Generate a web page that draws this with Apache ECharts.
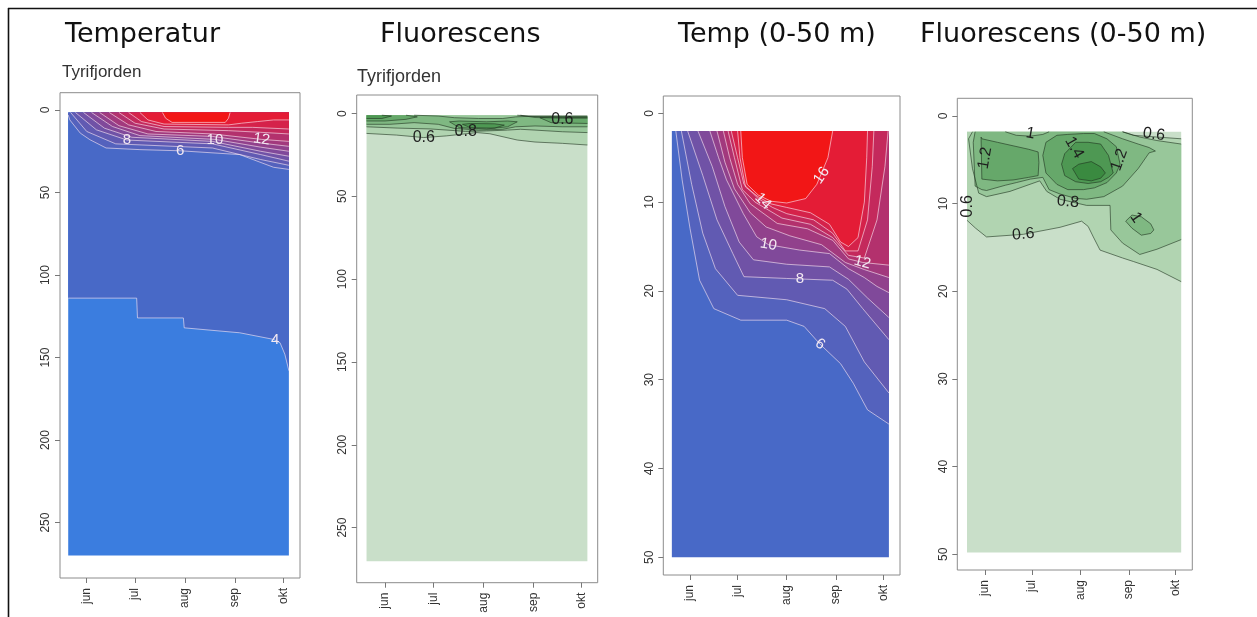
<!DOCTYPE html>
<html>
<head>
<meta charset="utf-8">
<style>
  html, body { margin: 0; padding: 0; background: #fff; }
  #chart { width: 1257px; height: 617px; }
</style>
<script src="https://cdn.jsdelivr.net/npm/echarts@6/dist/echarts.min.js"></script>
</head>
<body>
<div id="chart"></div>
<script>
// x axis is day of year, ticks on the 1st of each month
const monthDays = [152, 182, 213, 244, 274];
const monthNames = ['jun', 'jul', 'aug', 'sep', 'okt'];
const depthTicksDeep = [0, 50, 100, 150, 200, 250];
const depthTicksShallow = [0, 10, 20, 30, 40, 50];
const DAY0 = 140.5, DAY1 = 277.5;

/* Temperatur, 0-270 m: isotherm depth per day, 0 = at surface */
const tempLevels = [4, 6, 7, 8, 9, 10, 11, 12, 13, 14, 15, 16];
const tempIso = [
  [[140.5,114],[183,114],[183.5,126],[212,126],[212.5,132],[247,135],[268,139],[272,141],[275,148],[277.5,158]],
  [[140.5,3],[141.5,6],[148,14],[154,18],[164,23],[185,24],[210,24.7],[247,27],[268,34.7],[277.5,36]],
  [[140.5,0],[142,0],[152,13],[170,20.5],[230,23],[260,30],[277.5,33.5]],
  [[140.5,0],[145,0],[158,12],[177,18.2],[230,20.5],[260,27],[277.5,31]],
  [[140.5,0],[150,0],[163,11],[180,16.5],[230,19],[260,25],[277.5,28]],
  [[140.5,0],[155,0],[168,10],[185,15.5],[231.6,17.8],[260,22.5],[277.5,25]],
  [[140.5,0],[160,0],[172,9.5],[190,14.5],[230,16],[260,20],[277.5,22]],
  [[140.5,0],[166,0],[178,9],[195,13],[230,14.5],[260.6,17.8],[277.5,19]],
  [[140.5,0],[172,0],[182,8],[200,11.5],[240,12.5],[260,13.5],[277.5,14.5]],
  [[140.5,0],[178,0],[186,7],[200,10],[240,10.5],[255,10.5],[277.5,11.5]],
  [[140.5,0],[185,0],[190,6],[200,8.5],[240,9],[248,8],[258,7],[268,6],[277.5,6]],
  [[140.5,0],[199,0],[201,5],[205,7.5],[238,7.5],[240,5],[241,0],[277.5,0]]
];
const tempLabels = [['8',177,18.2],['6',210,24.7],['10',231.6,17.8],['12',260.6,17.8],['4',269,139.5]];

/* Temp 0-50 m */
const temp50Levels = [6, 7, 8, 9, 10, 11, 12, 13, 14, 15, 16];
const temp50Iso = [
  [[140.5,0],[143,0],[147,7.5],[152,13],[158,18.8],[167,22],[184,23.3],[213,23.3],[224,24],[234,26],[247,28.2],[255,30.4],[264,33.4],[277.5,35]],
  [[140.5,0],[146.5,0],[153,8],[160,13.5],[168,17.5],[182,20.5],[213,21],[237,22],[250,24],[262,28],[277.5,31.5]],
  [[140.5,0],[150.5,0],[160,7],[169,12],[179,15.8],[186,18.4],[213,18.6],[242,18.8],[251,19.8],[261,22],[277.5,25.5]],
  [[140.5,0],[157,0],[166,6],[174,10.5],[183,14.5],[192,16.5],[213,17],[240,17.3],[252,18.7],[264,20.8],[277.5,23]],
  [[140.5,0],[164.5,0],[170,5],[175,7.5],[185.6,11.3],[194,13.9],[201.5,14.8],[221,15.4],[240,15.8],[252,17.5],[262,18.5],[270,19.5],[277.5,20.2]],
  [[140.5,0],[169,0],[174,5.5],[180,8.5],[190,11.2],[200,12.8],[215,13.8],[235,14.8],[250,16.8],[262,17.6],[277.5,18.5]],
  [[140.5,0],[173,0],[177,5],[182,8],[190,10.2],[207,12.4],[226,13],[242,14.3],[252,16.4],[261,16.8],[277.5,17.1]],
  [[140.5,0],[176,0],[180,5],[185,8.6],[193,10],[210,11.8],[228,12.5],[242,14],[252,16],[262,16.3],[270,12],[275,6],[277,0],[277.5,0]],
  [[140.5,0],[178,0],[182,5],[186,8],[195,9.6],[204,10.6],[213,11.3],[230,12],[242,13.5],[250,15.5],[258,15.5],[264,12],[267,6],[268,0],[277.5,0]],
  [[140.5,0],[182,0],[183.5,5],[187,8.3],[195,9.4],[203,10.2],[213,10.6],[228,11.2],[240,12.5],[247,14.5],[252,15],[258,14],[262,10],[263.5,5],[264,0],[277.5,0]],
  [[140.5,0],[184,0],[185,5],[188,8],[195,9.2],[203,9.9],[213,10.1],[225,9.6],[232,8],[239,5],[242,0],[277.5,0]]
];
const temp50Labels = [['6',234,26],['8',221.4,18.7],['10',201.5,14.8],['12',260.7,16.8],['14',198,9.9],['16',235,7]];

/* Fluorescens, 0-270 m: regions above a level, [day, top, bottom] */
const fluorLevels = [0.6, 0.8, 1.0, 1.2, 1.2, 1.2, 1.4, 1.4];
const fluorRegions = [
  [[140.5,0,12],[159,0,13],[176,0,14.5],[190,0,13.5],[209,0,11.5],[217,0,12.2],[234,0,16],[245,1.8,17.2],[262,2.3,18],[277.5,2.3,19]],
  [[140.5,0,8],[160,0,8.8],[180,0,9.3],[195,0,10.3],[202,0,10.8],[215,0,10.5],[228,0,10],[236,0,9.5],[245,2.4,10],[262,2.8,11],[277.5,2.8,11.5]],
  [[140.5,0,6.5],[155,0,6.5],[170,0.5,5.5],[185,1.5,6.5],[195,2.5,9],[210,3,10],[225,3,9.5],[233,2,8],[245,1.5,7.5],[262,1.5,8],[277.5,1.5,8]],
  [[140.5,0,4.5],[152,0,4.5],[165,1,3.5],[172,2,2]],
  [[192,5,5],[198,4.5,8.5],[215,5,9.3],[228,4.5,8],[234,5,5]],
  [[248,2.5,2.5],[255,2,5.5],[277.5,2,6]],
  [[140.5,0.5,3],[150,0.5,3],[156,1.5,1.5]],
  [[200,6.5,6.5],[205,6,8.5],[220,6.2,8.8],[226,7,7]]
];
const fluorLabels = [['0.6',176,14.8],['0.8',202,11],['0.6',262,3.9]];

/* Fluorescens 0-50 m */
const fluor50Levels = [0.6, 0.8, 1.0, 1.0, 1.2, 1.2, 1.4, 1.6];
const fluor50Regions = [
  [[140.5,0,11.9],[146,0,12.8],[153,0,13.8],[176.5,0,13.5],[200,0,12.7],[213.8,0,12],[218,0,12.6],[221.3,0,13.8],[225.6,0,15.3],[240,0,16.2],[246.9,2.2,16.6],[262,2.4,17.5],[277.5,2.6,18.9]],
  [[141.5,2.6,2.6],[144,0,6],[148,0,8.8],[153,0,9.2],[168,0,8.6],[187,0,7.4],[191.5,0,8.6],[200,0,9.5],[217,0,10.2],[232,0,10.2],[232.5,0,13],[240,0,14.5],[251,2.4,15.8],[262,2.8,15.2],[277.5,3.2,14.1]],
  [[144.5,3,3],[145.7,0,8],[150,0,8.4],[153,0,8.5],[165,0,7.9],[172,2.2,7.6],[181,2.3,7.2],[189,2.1,7],[193,0,8.4],[200,0,8.9],[210,0,9.4],[217,0,9.5],[228,0,9.2],[240,2.6,8],[250,3.2,6],[257,3.6,4.2],[261,4,4]],
  [[242,12,12],[246,11.3,12.8],[252,11.5,13.6],[258,12.3,13.4],[260,13,13]],
  [[149.5,2.4,2.4],[150,2.6,7.2],[160,3,7.4],[170,3.4,7.3],[180,3.8,7],[186,4.1,6.8],[186.5,5.3,5.3]],
  [[189,4.5,4.5],[191,3,6.5],[198,2.2,7.8],[205,2.1,8.4],[215,2,8.4],[222,2,8.2],[230,2.6,7.6],[236,3.5,6.5],[238.4,5.5,5.5]],
  [[201,5.5,5.5],[203,4.3,6.8],[210,3,7.5],[218,3,7.7],[226,3.2,7.5],[231,4.5,7],[234,6.5,6.5]],
  [[208,6,6],[212,5.5,7.2],[220,5.2,7.4],[226,5.8,7.1],[229,6.5,6.5]]
];
const fluor50Labels = [['1',181,2.0],['1.2',152,4.8],['1.4',209,3.6],['1.2',238,5],['0.8',205,9.8],['0.6',176.5,13.5],['0.6',141,10.3],['1',248.5,11.6],['0.6',260,2.1]];

/* colours of the band above each level */
const tempColor = {3:'#3b7ddf', 4:'#4869c7', 6:'#5462bd', 7:'#615ab2', 8:'#7052a6', 9:'#80499a', 10:'#91418c',
  11:'#a2397d', 12:'#b3316d', 13:'#c4295c', 14:'#d5224a', 15:'#e41c36', 16:'#f21616'};
const fluorColor = {0:'#c9dfc9', 0.6:'#b1d4b1', 0.8:'#98c79a', 1:'#7fb882', 1.2:'#66a86a', 1.4:'#4e9853', 1.6:'#3a8a40'};

const panels = [
  {grid: {left: 60, top: 92.7, width: 240, height: 485.3}, x: [135.4, 284.4], y: [-10.5, 283.6], ticks: depthTicksDeep,
   surface: 1.5, bottom: 270, base: tempColor[3], regions: tempIso, colors: tempLevels.map(l => tempColor[l]),
   line: 'rgba(255,235,245,0.6)', lineWidth: 1, labels: tempLabels, rot: [0, 0, 0, -8, 0], labelColor: '#f3e9f2', font: '15px "Liberation Sans"'},
  {grid: {left: 356.7, top: 95, width: 241, height: 487.7}, x: [134.4, 283.9], y: [-11.2, 283.3], ticks: depthTicksDeep,
   surface: 1, bottom: 270.3, base: fluorColor[0], regions: fluorRegions, colors: fluorLevels.map(l => fluorColor[l]),
   line: 'rgba(30,50,30,0.75)', lineWidth: 0.8, labels: fluorLabels, rot: [0, 0, 0], labelColor: '#1e1e1e', font: '16px "Liberation Sans"'},
  {grid: {left: 663.3, top: 96, width: 236.7, height: 479}, x: [135.1, 284.5], y: [-1.95, 52.0], ticks: depthTicksShallow,
   surface: 2, bottom: 50, base: tempColor[4], regions: temp50Iso, colors: temp50Levels.map(l => tempColor[l]),
   line: 'rgba(255,235,245,0.6)', lineWidth: 1, labels: temp50Labels, rot: [-35, 0, -10, -15, -45, 55], labelColor: '#f3e9f2', font: '15px "Liberation Sans"'},
  {grid: {left: 957.3, top: 98.3, width: 235, height: 471.7}, x: [134.3, 284.6], y: [-2.02, 51.8], ticks: depthTicksShallow,
   surface: 1.8, bottom: 49.8, base: fluorColor[0], regions: fluor50Regions, colors: fluor50Levels.map(l => fluorColor[l]),
   line: 'rgba(30,50,30,0.75)', lineWidth: 0.8, labels: fluor50Labels, rot: [-10, 80, -60, 70, -5, 5, 90, -55, -8], labelColor: '#1e1e1e', font: '16px "Liberation Sans"'}
];

const renderPanel = p => (params, api) => {
  const s = p.surface;
  const pt = (d, z) => api.coord([d, z]);
  const top = q => q.length === 3 ? Math.max(q[1], s) : s;
  const bot = q => Math.max(q[q.length - 1], s);
  const polygon = (pts, fill) => ({
    type: 'polygon',
    shape: {points: pts.map(q => pt(q[0], top(q))).concat(pts.slice().reverse().map(q => pt(q[0], bot(q))))},
    style: {fill: fill}
  });
  // contour lines, skipping the parts lying on the surface
  const edges = (pts, f) => {
    const out = [];
    let cur = null;
    for (let i = 0; i + 1 < pts.length; i++) {
      const a = f(pts[i]), b = f(pts[i + 1]);
      if (a > s + 0.01 || b > s + 0.01) {
        if (!cur) { cur = [pt(pts[i][0], a)]; out.push(cur); }
        cur.push(pt(pts[i + 1][0], b));
      } else cur = null;
    }
    return out;
  };
  const children = [polygon([[DAY0, s, p.bottom], [DAY1, s, p.bottom]], p.base)];
  p.regions.forEach((pts, k) => children.push(polygon(pts, p.colors[k])));
  p.regions.forEach(pts => {
    edges(pts, top).concat(edges(pts, bot)).forEach(line => children.push({
      type: 'polyline', shape: {points: line}, style: {stroke: p.line, lineWidth: p.lineWidth, fill: null}
    }));
  });
  p.labels.forEach((lb, k) => {
    const c = pt(lb[1], lb[2]);
    children.push({
      type: 'text', x: c[0], y: c[1], rotation: p.rot[k] * Math.PI / 180,
      style: {text: lb[0], fill: p.labelColor, font: p.font, align: 'center', verticalAlign: 'middle'}
    });
  });
  return {type: 'group', children: children};
};

const tickStyle = {show: true, length: 5, lineStyle: {color: '#777', width: 1}};
const labelStyle = {color: '#333', fontSize: 12, fontFamily: 'Liberation Sans', rotate: 90};

const chart = echarts.init(document.getElementById('chart'));
chart.setOption({
  animation: false,
  grid: panels.map(p => Object.assign({show: true, borderColor: '#8c8c8c', borderWidth: 1, backgroundColor: 'transparent'}, p.grid)),
  xAxis: panels.map((p, i) => ({
    type: 'value', gridIndex: i, min: p.x[0], max: p.x[1], position: 'bottom',
    axisLine: {show: false, onZero: false}, splitLine: {show: false},
    axisTick: Object.assign({customValues: monthDays}, tickStyle),
    axisLabel: Object.assign({customValues: monthDays, margin: 10,
      formatter: v => monthNames[monthDays.indexOf(v)]}, labelStyle)
  })),
  yAxis: panels.map((p, i) => ({
    type: 'value', gridIndex: i, min: p.y[0], max: p.y[1], inverse: true, position: 'left',
    axisLine: {show: false, onZero: false}, splitLine: {show: false},
    axisTick: Object.assign({customValues: p.ticks}, tickStyle),
    axisLabel: Object.assign({customValues: p.ticks, margin: 8}, labelStyle)
  })),
  series: panels.map((p, i) => ({
    type: 'custom', coordinateSystem: 'cartesian2d', xAxisIndex: i, yAxisIndex: i,
    data: [[DAY0, p.surface]], renderItem: renderPanel(p), silent: true, clip: true
  })),
  graphic: [
    {type: 'line', shape: {x1: 8, y1: 8.5, x2: 1257, y2: 8.5}, style: {stroke: '#111', lineWidth: 1.6}},
    {type: 'line', shape: {x1: 8.5, y1: 8, x2: 8.5, y2: 617}, style: {stroke: '#111', lineWidth: 1.6}},
    {type: 'text', x: 65, y: 35, style: {text: 'Temperatur', font: '27px "DejaVu Sans"', fill: '#111', verticalAlign: 'middle'}},
    {type: 'text', x: 380, y: 35, style: {text: 'Fluorescens', font: '27px "DejaVu Sans"', fill: '#111', verticalAlign: 'middle'}},
    {type: 'text', x: 678, y: 35, style: {text: 'Temp (0-50 m)', font: '27px "DejaVu Sans"', fill: '#111', verticalAlign: 'middle'}},
    {type: 'text', x: 920, y: 35, style: {text: 'Fluorescens (0-50 m)', font: '27px "DejaVu Sans"', fill: '#111', verticalAlign: 'middle'}},
    {type: 'text', x: 62, y: 72, style: {text: 'Tyrifjorden', font: '17px "Liberation Sans"', fill: '#333', verticalAlign: 'middle'}},
    {type: 'text', x: 357, y: 77, style: {text: 'Tyrifjorden', font: '18px "Liberation Sans"', fill: '#333', verticalAlign: 'middle'}}
  ]
});
</script>
</body>
</html>
